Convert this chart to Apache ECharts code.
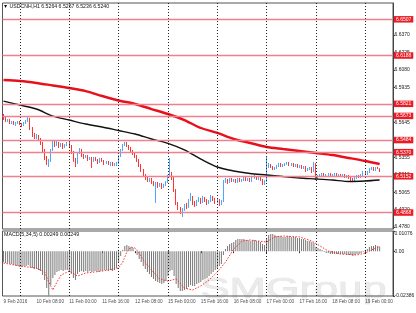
<!DOCTYPE html>
<html><head><meta charset="utf-8">
<script src="https://cdn.jsdelivr.net/npm/echarts@6/dist/echarts.min.js"></script>
<style>html,body{margin:0;padding:0;background:#fff}#c{width:416px;height:313px}</style>
</head><body><div id="c"></div><script>
// ---- categories (H1 bars) ----
const days = ['9 Feb','10 Feb','11 Feb','12 Feb','15 Feb','16 Feb','17 Feb','18 Feb','19 Feb'];
const categories = [];
days.forEach((d, k) => {
  const h0 = k === 0 ? 16 : 0, h1 = k === days.length - 1 ? 13 : 23;
  for (let h = h0; h <= h1; h++) categories.push(d + ' ' + String(h).padStart(2, '0') + ':00');
});
const xTicks = [[0,'9 Feb 2016'],[16,'10 Feb 08:00'],[32,'11 Feb 00:00'],[48,'11 Feb 16:00'],[64,'12 Feb 08:00'],[80,'15 Feb 00:00'],[96,'15 Feb 16:00'],[112,'16 Feb 08:00'],[128,'17 Feb 00:00'],[144,'17 Feb 16:00'],[160,'18 Feb 08:00'],[176,'19 Feb 00:00']];
const dayLines = [8,32,56,80,104,128,152,176];
const yTickLabels = ['6.6370','6.6225','6.6080','6.5935','6.5790','6.5645','6.5500','6.5355','6.5210','6.5065','6.4920','6.4780'];
const levels = [6.6507,6.6188,6.5821,6.5673,6.5484,6.5370,6.5152,6.4868];

// ---- prices ----
const firstOpen = 6.5691;
const closes = [6.5683,6.5658,6.5666,6.5641,6.5650,6.5633,6.5641,6.5650,6.5633,6.5625,
6.5641,6.5658,6.5674,6.5600,6.5542,6.5525,6.5534,6.5509,6.5476,6.5418,
6.5352,6.5310,6.5335,6.5418,6.5476,6.5459,6.5476,6.5451,6.5467,6.5443,
6.5459,6.5476,6.5451,6.5401,6.5335,6.5310,6.5393,6.5418,6.5376,6.5360,
6.5368,6.5343,6.5352,6.5327,6.5352,6.5335,6.5319,6.5343,6.5327,6.5310,
6.5319,6.5302,6.5310,6.5294,6.5302,6.5310,6.5368,6.5418,6.5459,6.5476,
6.5451,6.5434,6.5410,6.5393,6.5368,6.5335,6.5294,6.5252,6.5211,6.5186,
6.5169,6.5178,6.5153,6.5137,6.5145,6.5120,6.5137,6.5112,6.5128,6.5153,
6.5203,6.5219,6.5186,6.5087,6.4979,6.4938,6.4905,6.4921,6.4962,6.4946,
6.5004,6.5029,6.4979,6.4962,6.4996,6.5012,6.4987,6.5021,6.5004,6.4979,
6.4996,6.5029,6.5012,6.4987,6.5004,6.4971,6.4996,6.5153,6.5169,6.5153,
6.5178,6.5161,6.5169,6.5153,6.5178,6.5161,6.5169,6.5186,6.5169,6.5178,
6.5161,6.5186,6.5194,6.5178,6.5186,6.5169,6.5145,6.5161,6.5285,6.5294,
6.5277,6.5261,6.5269,6.5285,6.5302,6.5285,6.5294,6.5302,6.5310,6.5294,
6.5302,6.5285,6.5294,6.5277,6.5285,6.5269,6.5277,6.5252,6.5261,6.5269,
6.5244,6.5302,6.5186,6.5203,6.5211,6.5219,6.5203,6.5211,6.5219,6.5203,
6.5211,6.5219,6.5203,6.5211,6.5203,6.5211,6.5194,6.5203,6.5194,6.5178,
6.5169,6.5186,6.5203,6.5194,6.5211,6.5236,6.5219,6.5236,6.5261,6.5269,
6.5252,6.5269,6.5264,6.5240];
const highs = [6.5716,6.5691,6.5674,6.5674,6.5658,6.5658,6.5650,6.5658,6.5658,6.5641,
6.5650,6.5666,6.5691,6.5683,6.5608,6.5559,6.5550,6.5542,6.5517,6.5484,
6.5426,6.5368,6.5343,6.5426,6.5492,6.5492,6.5492,6.5484,6.5476,6.5476,
6.5467,6.5484,6.5484,6.5459,6.5410,6.5352,6.5401,6.5434,6.5426,6.5385,
6.5376,6.5376,6.5360,6.5360,6.5360,6.5360,6.5343,6.5352,6.5352,6.5335,
6.5327,6.5327,6.5319,6.5319,6.5310,6.5319,6.5376,6.5426,6.5467,6.5484,
6.5484,6.5459,6.5443,6.5418,6.5401,6.5376,6.5343,6.5302,6.5261,6.5219,
6.5194,6.5186,6.5186,6.5161,6.5153,6.5153,6.5145,6.5145,6.5137,6.5161,
6.5211,6.5352,6.5236,6.5194,6.5095,6.4987,6.4946,6.4938,6.4971,6.4979,
6.5012,6.5062,6.5037,6.4996,6.5004,6.5029,6.5021,6.5037,6.5029,6.5012,
6.5004,6.5045,6.5037,6.5021,6.5012,6.5012,6.5004,6.5169,6.5186,6.5178,
6.5186,6.5186,6.5178,6.5178,6.5186,6.5186,6.5178,6.5194,6.5194,6.5186,
6.5186,6.5194,6.5211,6.5203,6.5194,6.5194,6.5178,6.5169,6.5360,6.5310,
6.5302,6.5285,6.5277,6.5294,6.5310,6.5310,6.5302,6.5310,6.5319,6.5319,
6.5310,6.5310,6.5302,6.5302,6.5294,6.5294,6.5285,6.5285,6.5269,6.5277,
6.5277,6.5319,6.5310,6.5211,6.5219,6.5227,6.5227,6.5219,6.5227,6.5227,
6.5219,6.5227,6.5227,6.5219,6.5219,6.5219,6.5219,6.5211,6.5211,6.5203,
6.5186,6.5194,6.5211,6.5211,6.5219,6.5244,6.5244,6.5244,6.5269,6.5277,
6.5277,6.5277,6.5278,6.5267];
const lows = [6.5666,6.5650,6.5650,6.5633,6.5633,6.5625,6.5617,6.5633,6.5625,6.5608,
6.5617,6.5633,6.5650,6.5583,6.5525,6.5509,6.5509,6.5492,6.5459,6.5393,
6.5335,6.5294,6.5277,6.5319,6.5410,6.5443,6.5451,6.5434,6.5443,6.5426,
6.5434,6.5451,6.5434,6.5385,6.5319,6.5277,6.5302,6.5385,6.5360,6.5343,
6.5352,6.5327,6.5335,6.5269,6.5319,6.5327,6.5302,6.5310,6.5319,6.5294,
6.5302,6.5294,6.5285,6.5285,6.5285,6.5285,6.5302,6.5360,6.5410,6.5451,
6.5443,6.5418,6.5401,6.5376,6.5352,6.5319,6.5277,6.5236,6.5194,6.5169,
6.5153,6.5153,6.5137,6.5120,6.4979,6.5104,6.5112,6.5095,6.5104,6.5120,
6.5145,6.5194,6.5169,6.5070,6.4962,6.4921,6.4888,6.4863,6.4913,6.4929,
6.4938,6.4996,6.4962,6.4946,6.4954,6.4987,6.4971,6.4979,6.4987,6.4962,
6.4971,6.4987,6.4996,6.4971,6.4979,6.4954,6.4962,6.4987,6.5145,6.5137,
6.5145,6.5153,6.5153,6.5145,6.5145,6.5153,6.5153,6.5161,6.5161,6.5161,
6.5153,6.5153,6.5178,6.5169,6.5169,6.5161,6.5128,6.5128,6.5153,6.5269,
6.5269,6.5252,6.5252,6.5261,6.5277,6.5277,6.5277,6.5285,6.5294,6.5285,
6.5285,6.5277,6.5277,6.5269,6.5269,6.5261,6.5261,6.5236,6.5244,6.5252,
6.5227,6.5236,6.5169,6.5178,6.5194,6.5203,6.5194,6.5194,6.5203,6.5194,
6.5194,6.5203,6.5194,6.5194,6.5194,6.5194,6.5186,6.5186,6.5178,6.5161,
6.5153,6.5161,6.5178,6.5186,6.5186,6.5203,6.5211,6.5211,6.5227,6.5252,
6.5244,6.5244,6.5261,6.5236];
const opens = [firstOpen].concat(closes.slice(0, -1));

// ---- moving averages (sampled bars) ----
const maIdx = [0,8,16,24,32,40,48,56,64,72,80,88,96,104,112,120,128,136,144,152,160,168,176,183];
const maRed = [6.5997,6.5989,6.5973,6.5952,6.5931,6.5906,6.5865,6.5828,6.5799,6.5757,6.5716,6.5666,6.5600,6.5559,6.5509,6.5476,6.5443,6.5426,6.5410,6.5393,6.5376,6.5352,6.5327,6.5302];
const maBlack = [6.5823,6.5790,6.5757,6.5699,6.5666,6.5633,6.5608,6.5579,6.5550,6.5509,6.5472,6.5418,6.5343,6.5277,6.5244,6.5223,6.5211,6.5198,6.5186,6.5178,6.5169,6.5157,6.5161,6.5169];

// ---- MACD(5,34,5) ----
const macd = [-0.0058,-0.0063,-0.0063,-0.0068,-0.0068,-0.0074,-0.0079,-0.0079,-0.0084,-0.0084,
-0.0079,-0.0079,-0.0074,-0.0084,-0.0090,-0.0095,-0.0095,-0.0100,-0.0106,-0.0127,
-0.0153,-0.0196,-0.0236,-0.0180,-0.0143,-0.0127,-0.0111,-0.0106,-0.0100,-0.0106,
-0.0100,-0.0100,-0.0106,-0.0121,-0.0143,-0.0153,-0.0121,-0.0111,-0.0106,-0.0111,
-0.0106,-0.0111,-0.0106,-0.0111,-0.0106,-0.0106,-0.0111,-0.0106,-0.0106,-0.0100,
-0.0100,-0.0106,-0.0100,-0.0106,-0.0100,-0.0090,-0.0058,-0.0026,0.0006,0.0028,
0.0033,0.0028,0.0022,0.0017,0.0001,-0.0020,-0.0042,-0.0058,-0.0079,-0.0095,
-0.0111,-0.0121,-0.0137,-0.0148,-0.0159,-0.0164,-0.0169,-0.0175,-0.0169,-0.0159,
-0.0132,-0.0106,-0.0100,-0.0132,-0.0175,-0.0196,-0.0212,-0.0212,-0.0207,-0.0201,
-0.0191,-0.0180,-0.0185,-0.0185,-0.0175,-0.0169,-0.0164,-0.0153,-0.0148,-0.0143,
-0.0132,-0.0121,-0.0111,-0.0100,-0.0090,-0.0079,-0.0068,-0.0020,0.0012,0.0028,
0.0038,0.0044,0.0049,0.0060,0.0065,0.0065,0.0065,0.0065,0.0060,0.0060,
0.0054,0.0060,0.0060,0.0054,0.0054,0.0049,0.0038,0.0033,0.0070,0.0086,
0.0092,0.0092,0.0086,0.0081,0.0081,0.0081,0.0076,0.0076,0.0081,0.0081,
0.0076,0.0076,0.0076,0.0070,0.0070,0.0065,0.0065,0.0060,0.0054,0.0054,
0.0049,0.0044,0.0022,0.0017,0.0012,0.0006,-0.0004,-0.0010,-0.0010,-0.0015,
-0.0015,-0.0015,-0.0015,-0.0015,-0.0015,-0.0015,-0.0015,-0.0020,-0.0020,-0.0020,
-0.0026,-0.0020,-0.0015,-0.0015,-0.0010,-0.0004,0.0006,0.0012,0.0022,0.0028,
0.0028,0.0033,0.0028,0.00249];
const sigIdx = [0,8,16,20,22,24,26,28,32,36,40,48,56,58,60,62,64,66,68,72,76,80,84,88,92,96,100,104,108,112,116,120,124,128,132,136,144,150,154,158,164,172,176,180,183];
const signal = [-0.0063,-0.0079,-0.0090,-0.0111,-0.0164,-0.0207,-0.0164,-0.0127,-0.0106,-0.0132,-0.0116,-0.0106,-0.0090,-0.0058,-0.0004,0.0022,0.0017,-0.0010,-0.0047,-0.0100,-0.0148,-0.0159,-0.0148,-0.0196,-0.0207,-0.0185,-0.0153,-0.0111,-0.0058,0.0012,0.0054,0.0060,0.0054,0.0049,0.0076,0.0081,0.0076,0.0054,0.0028,0.0001,-0.0015,-0.0020,-0.0010,0.0012,0.00249];
const macdMax = 0.01076, macdMin = -0.02386;

// ---- build ----
const FONT = 'Liberation Sans';
const last = closes.length - 1;
const tickMap = {}; xTicks.forEach(t => tickMap[t[0]] = t[1]);
const showTick = (i) => tickMap[i] !== undefined;
const pMin = 6.47637, pMax = 6.66350;

const dayMarks = dayLines.map(i => ({ xAxis: categories[i], lineStyle: { color: '#222', type: [1, 2], width: 1 }, label: { show: false } }));
const lvlMarks = levels.map(v => ({
  yAxis: v, lineStyle: { color: '#f0808c', width: 1.3, type: 'solid' },
  label: { show: true, position: 'end', distance: 1, formatter: v.toFixed(4), backgroundColor: '#ec1c24', color: '#fff', fontSize: 5, fontFamily: FONT, padding: [1, 2, 0.5, 2] }
}));
const curMark = {
  yAxis: closes[last], lineStyle: { opacity: 0 },
  label: { show: true, position: 'end', distance: 1, formatter: closes[last].toFixed(4), backgroundColor: '#000', color: '#fff', fontSize: 5, fontFamily: FONT, padding: [1, 2, 0.5, 2] }
};

const chart = echarts.init(document.getElementById('c'));
chart.setOption({
  animation: false,
  backgroundColor: '#fff',
  textStyle: { fontFamily: FONT },
  grid: [
    { left: 2.5, right: 23, top: 3, height: 226, show: true, borderColor: '#555', borderWidth: 1, outerBoundsMode: 'none' },
    { left: 2.5, right: 23, top: 231, height: 65, show: true, borderColor: '#555', borderWidth: 1, outerBoundsMode: 'none' }
  ],
  graphic: [
    { type: 'text', left: 3, top: 4.5, z: 10, style: { text: '\u25BC USDCNH,H1 ' + [opens[last], highs[last], lows[last], closes[last]].map(v => v.toFixed(4)).join(' '), font: '5.2px ' + FONT, fill: '#111' } },
    { type: 'text', left: 4, top: 232.5, z: 10, style: { text: 'MACD(5,34,5) ' + macd[last].toFixed(5) + ' ' + signal[signal.length - 1].toFixed(5), font: '5.3px ' + FONT, fill: '#111' } },
    { type: 'text', left: 200, top: 274, z: -10, silent: true, scaleX: 1.45, style: { text: 'SMGroup', font: '30px ' + FONT, fill: '#ebebeb', stroke: '#dcdcdc', lineWidth: 0.6 } }
  ],
  xAxis: [
    { type: 'category', gridIndex: 0, data: categories, axisLine: { show: false }, axisTick: { show: false }, axisLabel: { show: false }, splitLine: { show: false } },
    { type: 'category', gridIndex: 1, data: categories, axisLine: { show: false },
      axisTick: { show: true, interval: showTick, alignWithLabel: true, length: 2, lineStyle: { color: '#333' } },
      axisLabel: { show: false },
      splitLine: { show: false } }
  ],
  yAxis: [
    { type: 'value', gridIndex: 0, position: 'right', min: pMin, max: pMax, scale: true,
      axisLine: { show: true, lineStyle: { color: '#444' } },
      axisTick: { show: true, length: 2, customValues: yTickLabels.map(Number), lineStyle: { color: '#444' } },
      axisLabel: { customValues: yTickLabels.map(Number), formatter: v => v.toFixed(4), fontSize: 5, color: '#222', margin: 1.5, fontFamily: FONT },
      splitLine: { show: false } },
    { type: 'value', gridIndex: 1, position: 'right', min: macdMin, max: macdMax,
      axisLine: { show: true, lineStyle: { color: '#444' } },
      axisTick: { show: true, length: 2, customValues: [macdMax, 0, macdMin], lineStyle: { color: '#444' } },
      axisLabel: { customValues: [macdMax, 0, macdMin], fontSize: 5, color: '#222', margin: 1.5, fontFamily: FONT,
        formatter: v => v === 0 ? '0.00' : (v > 0 ? '{t|' + v.toFixed(5) + '}' : v.toFixed(5)),
        rich: { t: { fontSize: 5, padding: [6, 0, 0, 0], fontFamily: FONT, color: '#222' } } },
      splitLine: { show: false } }
  ],
  series: [
    { type: 'candlestick', xAxisIndex: 0, yAxisIndex: 0, barWidth: 1.3,
      data: closes.map((c, i) => [opens[i], c, lows[i], highs[i]]),
      itemStyle: { color: '#1e90ff', color0: '#ff0000', borderColor: '#1e90ff', borderColor0: '#ff0000', borderWidth: 0.8 },
      markLine: { silent: true, symbol: ['none', 'none'], animation: false, data: [...dayMarks, ...lvlMarks, curMark] } },
    { type: 'line', xAxisIndex: 0, yAxisIndex: 0, symbol: 'none', smooth: 0.3,
      data: maIdx.map((k, j) => [k, maRed[j]]), lineStyle: { color: '#e8101a', width: 2.4 }, z: 3 },
    { type: 'line', xAxisIndex: 0, yAxisIndex: 0, symbol: 'none', smooth: 0.3,
      data: maIdx.map((k, j) => [k, maBlack[j]]), lineStyle: { color: '#111', width: 1.4 }, z: 3 },
    { type: 'bar', xAxisIndex: 1, yAxisIndex: 1, barWidth: 1, data: macd, itemStyle: { color: '#777' },
      markLine: { silent: true, symbol: ['none', 'none'], animation: false, data: dayMarks } },
    { type: 'line', xAxisIndex: 1, yAxisIndex: 1, symbol: 'none',
      data: sigIdx.map((k, j) => [k, signal[j]]), lineStyle: { color: '#ff3030', width: 1, type: [1.5, 1.5] }, z: 3 },
    { type: 'scatter', xAxisIndex: 1, yAxisIndex: 1, silent: true, clip: false, symbolSize: 0, zlevel: 1, z: 20,
      data: xTicks.map(t => [t[0], macdMin]),
      labelLayout: { hideOverlap: false },
      label: { show: true, position: 'bottom', distance: 3, align: 'left', formatter: p => tickMap[p.data[0]], fontSize: 4.7, color: '#222', fontFamily: FONT } }
  ]
});
</script></body></html>
